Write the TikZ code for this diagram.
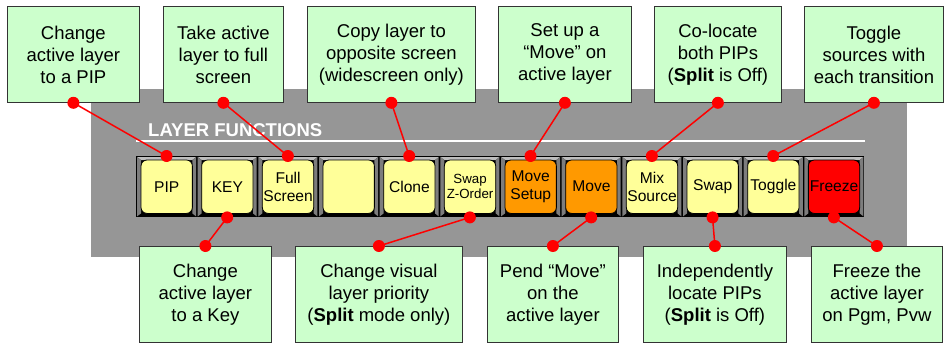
\documentclass[tikz,border=0pt]{standalone}
\usepackage{fontspec}
\setmainfont{Liberation Sans}
\definecolor{panel}{RGB}{150,150,150}
\definecolor{boxfill}{RGB}{204,255,204}
\definecolor{keyY}{RGB}{255,255,153}
\definecolor{keyO}{RGB}{255,153,0}
\definecolor{keyR}{RGB}{255,0,0}
\definecolor{bevtop}{RGB}{190,190,190}
\definecolor{bevside}{RGB}{125,125,125}
\tikzset{
 callout/.style={draw=black!80, line width=0.8pt, fill=boxfill, align=center, inner sep=0pt,
   font=\fontsize{18.5}{22}\selectfont, minimum height=96pt},
 cellbox/.style={fill=black, inner sep=0pt, minimum width=60.667pt, minimum height=61pt, anchor=north west},
 keycap/.style={draw=black, line width=0.8pt, rounded corners=6pt, inner sep=0pt},
 keytext/.style={align=center, inner sep=0pt, font=\fontsize{15.6}{17.5}\selectfont},
 smallkeytext/.style={align=center, inner sep=0pt, font=\fontsize{13.3}{15}\selectfont},
 conn/.style={draw=red, line width=1.5pt},
 reddot/.style={fill=red},
}
\begin{document}
\begin{tikzpicture}[x=1pt,y=-1pt]
\useasboundingbox (0,0) rectangle (944,343);
% panel
\fill[panel] (91,89) rectangle (907,257);
% top callouts
\node[callout, minimum width=132pt, anchor=north west] (t1) at (7,6) {Change\\active layer\\to a PIP};
\node[callout, minimum width=120pt, anchor=north west] (t2) at (163,6) {Take active\\layer to full\\screen};
\node[callout, minimum width=168pt, anchor=north west] (t3) at (307,6) {Copy layer to\\opposite screen\\(widescreen only)};
\node[callout, minimum width=133pt, anchor=north west] (t4) at (498,6) {Set up a\\“Move” on\\active layer};
\node[callout, minimum width=127pt, anchor=north west] (t5) at (654,6) {Co-locate\\both PIPs\\(\textbf{Split} is Off)};
\node[callout, minimum width=139pt, anchor=north west] (t6) at (804,6) {Toggle\\sources with\\each transition};
% bottom callouts
\node[callout, minimum width=132pt, anchor=north west] (b1) at (139,246) {Change\\active layer\\to a Key};
\node[callout, minimum width=167pt, anchor=north west] (b2) at (295,246) {Change visual\\layer priority\\(\textbf{Split} mode only)};
\node[callout, minimum width=131pt, anchor=north west] (b3) at (487,246) {Pend “Move”\\on the\\active layer};
\node[callout, minimum width=143pt, anchor=north west] (b4) at (643,246) {Independently\\locate PIPs\\(\textbf{Split} is Off)};
\node[callout, minimum width=131pt, anchor=north west] (b5) at (811,246) {Freeze the\\active layer\\on Pgm, Pvw};
% title
\node[anchor=base west, inner sep=0pt, text=white, font=\fontsize{18.5}{20}\selectfont\bfseries] (title) at (148,136) {LAYER FUNCTIONS};
\draw[white, line width=1.1pt] (136,141) -- (865,141);
% button cells
\foreach \i/\col in {1/keyY,2/keyY,3/keyY,4/keyY,5/keyY,6/keyY,7/keyO,8/keyO,9/keyY,10/keyY,11/keyY,12/keyR}{
  \pgfmathsetmacro\xl{136+(\i-1)*60.667}
  \node[cellbox] (c\i) at (\xl,156) {};
  \fill[bevtop] ([shift={(1,1)}]c\i.north west) -- ([shift={(-1,1)}]c\i.north east)
     -- ([shift={(-4.7,4)}]c\i.north east) -- ([shift={(5,4)}]c\i.north west) -- cycle;
  \fill[bevside] ([shift={(1,1)}]c\i.north west) -- ([shift={(5,4)}]c\i.north west)
     -- ([shift={(5,-4)}]c\i.south west) -- ([shift={(1,-1)}]c\i.south west) -- cycle;
  \fill[bevside] ([shift={(-1,1)}]c\i.north east) -- ([shift={(-4.7,4)}]c\i.north east)
     -- ([shift={(-4.7,-4)}]c\i.south east) -- ([shift={(-1,-1)}]c\i.south east) -- cycle;
  \draw[keycap, fill=\col] ([shift={(5,4)}]c\i.north west) rectangle ([shift={(-4.7,-4)}]c\i.south east);
  \coordinate (k\i) at ([xshift=0.2pt]c\i.center);
}
% button labels
\node[keytext] (l1) at (k1) {PIP};
\node[keytext] (l2) at (k2) {KEY};
\node[keytext] (l3) at (k3) {Full\\Screen};
\node[keytext] (l5) at (k5) {Clone};
\node[smallkeytext] (l6) at (k6) {Swap\\Z-Order};
\node[keytext] (l7) at (k7) {Move\\Setup};
\node[keytext] (l8) at (k8) {Move};
\node[keytext] (l9) at (k9) {Mix\\Source};
\node[keytext] (l10) at (k10) {Swap};
\node[keytext] (l11) at (k11) {Toggle};
\node[keytext] (l12) at (k12) {Freeze};
% connectors
\draw[conn] (t1.south) -- (c1.north);
\draw[conn] (t2.south) -- (c3.north);
\draw[conn] (t3.south) -- (c5.north);
\draw[conn] (t4.south) -- (c7.north);
\draw[conn] (t5.south) -- (c9.north);
\draw[conn] (t6.south) -- (c11.north);
\draw[conn] (c2.south) -- (b1.north);
\draw[conn] (c6.south) -- (b2.north);
\draw[conn] (c8.south) -- (b3.north);
\draw[conn] (c10.south) -- (b4.north);
\draw[conn] (c12.south) -- (b5.north);
% dots
\foreach \p in {t1.south,t2.south,t3.south,t4.south,t5.south,t6.south,
  c1.north,c3.north,c5.north,c7.north,c9.north,c11.north,
  c2.south,c6.south,c8.south,c10.south,c12.south,
  b1.north,b2.north,b3.north,b4.north,b5.north}{
  \fill[reddot] (\p) circle (6pt);
}
\end{tikzpicture}
\end{document}
